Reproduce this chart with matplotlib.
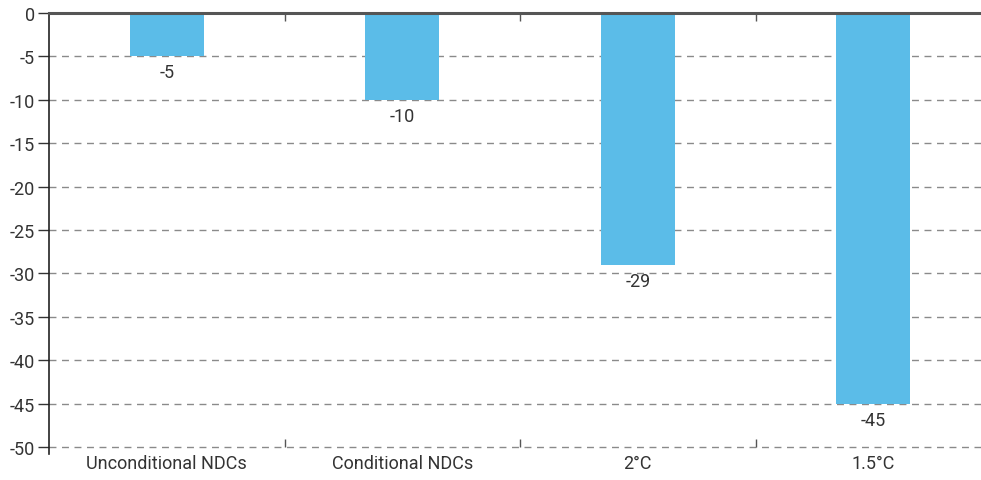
import matplotlib.pyplot as plt
from matplotlib.ticker import FixedLocator

categories = ['Unconditional NDCs', 'Conditional NDCs', '2°C', '1.5°C']
values = [-5, -10, -29, -45]
y_ticks = [0, -5, -10, -15, -20, -25, -30, -35, -40, -45, -50]

plt.rcParams['font.family'] = ['Roboto', 'DejaVu Sans']

fig = plt.figure(figsize=(9.81, 4.81), dpi=100)
ax = fig.add_axes([49 / 981, 33 / 481, 932 / 981, 434 / 481])

x = list(range(len(categories)))
ax.bar(x, values, width=0.315, color='#5BBCE8', zorder=2)

# value labels under each bar
for xi, v in zip(x, values):
    ax.annotate(str(v), (xi, v), xytext=(0, -5), textcoords='offset points',
                ha='center', va='top', fontsize=13, color='#333333')

ax.set_xlim(-0.5, 3.5 - 10 / 235.5)
ax.set_ylim(-50, 0)
ax.set_yticks(y_ticks)
ax.set_yticklabels([str(t) for t in y_ticks])

ax.set_xticks(x)
ax.set_xticklabels(categories)
ax.xaxis.set_minor_locator(FixedLocator([0.5, 1.5, 2.5]))
ax.tick_params(axis='x', which='major', length=0, pad=5, labelsize=13, labelcolor='#333333')
ax.tick_params(axis='x', which='minor', direction='in', length=6, width=1,
               color='#555555', top=True, bottom=True)
ax.tick_params(axis='y', length=8, width=1, color='#333333', labelsize=13,
               labelcolor='#333333', pad=2)

# dashed grid, skip the zero line
for t in y_ticks[1:]:
    ax.axhline(t, color='#8a8a8a', linestyle=(0, (5, 4)), linewidth=1,
               zorder=1, clip_on=False)

for side in ['right', 'bottom']:
    ax.spines[side].set_visible(False)
ax.spines['left'].set_color('#222222')
ax.spines['left'].set_linewidth(1.2)
ax.spines['left'].set_bounds(-50.8, 0)
ax.spines['top'].set_color('#555555')
ax.spines['top'].set_linewidth(2.2)
ax.spines['top'].set_zorder(3)

fig.savefig('out.png', dpi=100)
